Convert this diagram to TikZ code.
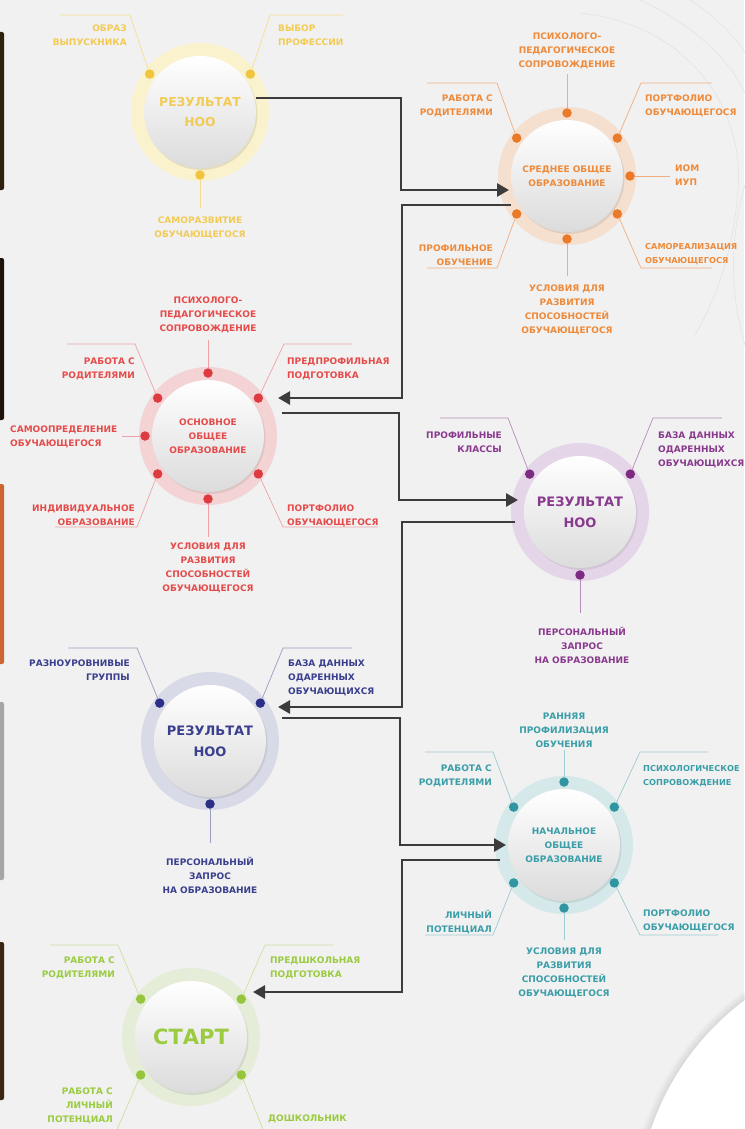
\documentclass[tikz,border=0pt]{standalone}
\usepackage{fontspec}
\setmainfont{DejaVu Sans}
\usetikzlibrary{arrows.meta,calc,shadows}
\definecolor{bgc}{HTML}{F1F1F1}
\definecolor{arrowc}{HTML}{3C3C3C}
\definecolor{yT}{HTML}{F2CB55}\definecolor{yD}{HTML}{F0C43C}\definecolor{yR}{HTML}{FAF2CC}\definecolor{yL}{HTML}{F5DE93}
\definecolor{oT}{HTML}{EE8A3A}\definecolor{oD}{HTML}{EA7A2A}\definecolor{oR}{HTML}{F5DFCE}\definecolor{oL}{HTML}{F0AE80}
\definecolor{rT}{HTML}{E64B4B}\definecolor{rD}{HTML}{DD3B42}\definecolor{rR}{HTML}{F4D3D4}\definecolor{rL}{HTML}{EEA2A5}
\definecolor{pT}{HTML}{8A3A8E}\definecolor{pD}{HTML}{7D2A82}\definecolor{pR}{HTML}{E5D5E8}\definecolor{pL}{HTML}{B58DB8}
\definecolor{bT}{HTML}{3A3F8E}\definecolor{bD}{HTML}{2B2F86}\definecolor{bR}{HTML}{D9DAE7}\definecolor{bL}{HTML}{9A9CC0}
\definecolor{tT}{HTML}{3A9EA8}\definecolor{tD}{HTML}{2F95A0}\definecolor{tR}{HTML}{D5E8EA}\definecolor{tL}{HTML}{9CCCD2}
\definecolor{gT}{HTML}{9BCB40}\definecolor{gD}{HTML}{94C53A}\definecolor{gR}{HTML}{E5EDD8}\definecolor{gL}{HTML}{CBE2A0}
\tikzset{
 ring/.style={circle, fill=#1, minimum size=138pt, inner sep=0pt, outer sep=0pt},
 hub/.style={circle, minimum size=126pt, inner sep=0pt, outer sep=0pt},
 core/.style={circle, minimum size=112pt, inner sep=0pt, outer sep=0pt, top color=white, bottom color=black!14,
   drop shadow={shadow xshift=1.5pt, shadow yshift=-2pt, opacity=0.18}, text=#1, align=center},
 dot/.style={circle, fill=#1, minimum size=9.5pt, inner sep=0pt, outer sep=0pt},
 leader/.style={draw=#1, line width=0.7pt},
 lbl/.style={text=#1, inner sep=0pt, font=\fontsize{9}{13.8}\selectfont\bfseries},
 lbls/.style={text=#1, inner sep=0pt, font=\fontsize{8.2}{13.8}\selectfont\bfseries},
 conn/.style={draw=arrowc, line width=2.8pt, -{Triangle[length=12pt,width=13pt]}},
 deco/.style={draw=black!11, line width=0.6pt},
}
\newcommand\sat[8]{%
  \node[dot=#4D] (#1) at (#2p.#3) {};
  \coordinate (#1b) at #5;
  \coordinate (#1e) at #6;
  \draw[leader=#4L] (#1) -- (#1b) -- (#1e);
  \node[lbl=#4T, #7] (#1t) {#8};
}
\begin{document}
\begin{tikzpicture}[x=1pt,y=-1pt]
\useasboundingbox (0,0) rectangle (744,1129);
\fill[bgc] (0,0) rectangle (744,1129);
% background decorations
\draw[deco] (580,13) .. controls (690,25) and (745,110) .. (738,190) .. controls (733,255) and (715,300) .. (695,335);
\draw[deco] (640,0) .. controls (705,30) and (744,75) .. (750,110);
\draw[deco] (690,0) .. controls (720,20) and (738,40) .. (750,60);
\draw[deco] (750,170) .. controls (728,230) and (728,300) .. (750,360);
\foreach \k in {0,...,7} {\fill[black, opacity=0.012] (905,1215) circle[radius={276pt-\k pt}];}
\fill[white] (905,1215) circle[radius=268pt];
\fill[black!75!brown, rounded corners=2pt] (-6,32) rectangle (4,190);
\fill[black!85!brown, rounded corners=2pt] (-6,258) rectangle (4,420);
\fill[brown!80!red, rounded corners=2pt] (-6,484) rectangle (4,664);
\fill[gray!70, rounded corners=2pt] (-6,702) rectangle (4,880);
\fill[black!70!brown, rounded corners=2pt] (-6,942) rectangle (4,1100);

% ---------- hubs ----------
\node[ring=yR] (Yr) at (200,112) {};
\node[hub] (Yp) at (200,112) {};
\node[ring=oR] (Or) at (567,176) {};
\node[hub] (Op) at (567,176) {};
\node[ring=rR] (Rr) at (208,436) {};
\node[hub] (Rp) at (208,436) {};
\node[ring=pR] (Pr) at (580,512) {};
\node[hub] (Pp) at (580,512) {};
\node[ring=bR] (Br) at (210,741) {};
\node[hub] (Bp) at (210,741) {};
\node[ring=tR] (Tr) at (564,845) {};
\node[hub] (Tp) at (564,845) {};
\node[ring=gR] (Gr) at (191,1037) {};
\node[hub] (Gp) at (191,1037) {};

% ---------- satellites ----------
\sat{Yul}{Y}{143}{y}{(130,15)}{(60,15)}{anchor=north east, align=right, at={(127,25)}}{ОБРАЗ\\ВЫПУСКНИКА}
\sat{Yur}{Y}{37}{y}{(270,15)}{(343,15)}{anchor=north west, align=left, at={(278,25)}}{ВЫБОР\\ПРОФЕССИИ}
\sat{Yb}{Y}{270}{y}{(200,208)}{(200,208)}{anchor=north, align=center, at={(200,217)}}{САМОРАЗВИТИЕ\\ОБУЧАЮЩЕГОСЯ}

\sat{Ot}{O}{90}{o}{(567,74)}{(567,74)}{anchor=north, align=center, at={(567,33)}}{ПСИХОЛОГО-\\ПЕДАГОГИЧЕСКОЕ\\СОПРОВОЖДЕНИЕ}
\sat{Oul}{O}{143}{o}{(497,83)}{(427,83)}{anchor=north east, align=right, at={(493,95)}}{РАБОТА С\\РОДИТЕЛЯМИ}
\sat{Our}{O}{37}{o}{(641,83)}{(712,83)}{anchor=north west, align=left, at={(645,95)}}{ПОРТФОЛИО\\ОБУЧАЮЩЕГОСЯ}
\sat{Ori}{O}{0}{o}{(670,176)}{(670,176)}{anchor=north west, align=left, at={(675,165)}}{ИОМ\\ИУП}
\sat{Olr}{O}{323}{o}{(641,268)}{(712,268)}{anchor=north west, align=left, at={(645,243)}, lbls=oT}{САМОРЕАЛИЗАЦИЯ\\ОБУЧАЮЩЕГОСЯ}
\sat{Oll}{O}{217}{o}{(497,268)}{(427,268)}{anchor=north east, align=right, at={(493,245)}}{ПРОФИЛЬНОЕ\\ОБУЧЕНИЕ}
\sat{Ob}{O}{270}{o}{(567,276)}{(567,276)}{anchor=north, align=center, at={(567,285)}}{УСЛОВИЯ ДЛЯ\\РАЗВИТИЯ\\СПОСОБНОСТЕЙ\\ОБУЧАЮЩЕГОСЯ}

\sat{Rt}{R}{90}{r}{(208,340)}{(208,340)}{anchor=north, align=center, at={(208,297)}}{ПСИХОЛОГО-\\ПЕДАГОГИЧЕСКОЕ\\СОПРОВОЖДЕНИЕ}
\sat{Rul}{R}{143}{r}{(135,344)}{(67,344)}{anchor=north east, align=right, at={(135,358)}}{РАБОТА С\\РОДИТЕЛЯМИ}
\sat{Rur}{R}{37}{r}{(284,344)}{(352,344)}{anchor=north west, align=left, at={(287,358)}}{ПРЕДПРОФИЛЬНАЯ\\ПОДГОТОВКА}
\sat{Rl}{R}{180}{r}{(122,436)}{(122,436)}{anchor=north west, align=left, at={(10,426)}}{САМООПРЕДЕЛЕНИЕ\\ОБУЧАЮЩЕГОСЯ}
\sat{Rll}{R}{217}{r}{(137,527)}{(55,527)}{anchor=north east, align=right, at={(135,505)}}{ИНДИВИДУАЛЬНОЕ\\ОБРАЗОВАНИЕ}
\sat{Rlr}{R}{323}{r}{(283,527)}{(378,527)}{anchor=north west, align=left, at={(287,505)}}{ПОРТФОЛИО\\ОБУЧАЮЩЕГОСЯ}
\sat{Rb}{R}{270}{r}{(208,537)}{(208,537)}{anchor=north, align=center, at={(208,543)}}{УСЛОВИЯ ДЛЯ\\РАЗВИТИЯ\\СПОСОБНОСТЕЙ\\ОБУЧАЮЩЕГОСЯ}

\sat{Pul}{P}{143}{p}{(508,418)}{(440,418)}{anchor=north east, align=right, at={(502,432)}}{ПРОФИЛЬНЫЕ\\КЛАССЫ}
\sat{Pur}{P}{37}{p}{(653,418)}{(722,418)}{anchor=north west, align=left, at={(658,432)}}{БАЗА ДАННЫХ\\ОДАРЕННЫХ\\ОБУЧАЮЩИХСЯ}
\sat{Pb}{P}{270}{p}{(580,613)}{(580,613)}{anchor=north, align=center, at={(582,627)}}{ПЕРСОНАЛЬНЫЙ\\ЗАПРОС\\НА ОБРАЗОВАНИЕ}

\sat{Bul}{B}{143}{b}{(137,648)}{(68,648)}{anchor=north east, align=right, at={(130,660)}}{РАЗНОУРОВНИВЫЕ\\ГРУППЫ}
\sat{Bur}{B}{37}{b}{(283,648)}{(352,648)}{anchor=north west, align=left, at={(288,660)}}{БАЗА ДАННЫХ\\ОДАРЕННЫХ\\ОБУЧАЮЩИХСЯ}
\sat{Bb}{B}{270}{b}{(210,843)}{(210,843)}{anchor=north, align=center, at={(210,857)}}{ПЕРСОНАЛЬНЫЙ\\ЗАПРОС\\НА ОБРАЗОВАНИЕ}

\sat{Tt}{T}{90}{t}{(564,750)}{(564,750)}{anchor=north, align=center, at={(564,713)}}{РАННЯЯ\\ПРОФИЛИЗАЦИЯ\\ОБУЧЕНИЯ}
\sat{Tul}{T}{143}{t}{(493,752)}{(425,752)}{anchor=north east, align=right, at={(492,765)}}{РАБОТА С\\РОДИТЕЛЯМИ}
\sat{Tur}{T}{37}{t}{(640,752)}{(708,752)}{anchor=north west, align=left, at={(643,765)}, lbls=tT}{ПСИХОЛОГИЧЕСКОЕ\\СОПРОВОЖДЕНИЕ}
\sat{Tll}{T}{217}{t}{(493,935)}{(425,935)}{anchor=north east, align=right, at={(492,910)}}{ЛИЧНЫЙ\\ПОТЕНЦИАЛ}
\sat{Tlr}{T}{323}{t}{(640,935)}{(718,935)}{anchor=north west, align=left, at={(643,910)}}{ПОРТФОЛИО\\ОБУЧАЮЩЕГОСЯ}
\sat{Tb}{T}{270}{t}{(564,940)}{(564,940)}{anchor=north, align=center, at={(564,948)}}{УСЛОВИЯ ДЛЯ\\РАЗВИТИЯ\\СПОСОБНОСТЕЙ\\ОБУЧАЮЩЕГОСЯ}

\sat{Gul}{G}{143}{g}{(118,945)}{(50,945)}{anchor=north east, align=right, at={(115,957)}}{РАБОТА С\\РОДИТЕЛЯМИ}
\sat{Gur}{G}{37}{g}{(265,945)}{(333,945)}{anchor=north west, align=left, at={(270,957)}}{ПРЕДШКОЛЬНАЯ\\ПОДГОТОВКА}
\sat{Gll}{G}{217}{g}{(116,1132)}{(40,1132)}{anchor=north east, align=right, at={(113,1088)}}{РАБОТА С\\ЛИЧНЫЙ\\ПОТЕНЦИАЛ}
\sat{Glr}{G}{323}{g}{(264,1132)}{(340,1132)}{anchor=north west, align=left, at={(268,1115)}}{ДОШКОЛЬНИК}

% ---------- cores ----------
\node[core=yT, font=\fontsize{12.3}{20}\selectfont\bfseries] (Y) at (200,112) {РЕЗУЛЬТАТ\\НОО};
\node[core=oT, font=\fontsize{9}{14}\selectfont\bfseries] (O) at (567,176) {СРЕДНЕЕ ОБЩЕЕ\\ОБРАЗОВАНИЕ};
\node[core=rT, font=\fontsize{9}{14}\selectfont\bfseries] (R) at (208,436) {ОСНОВНОЕ\\ОБЩЕЕ\\ОБРАЗОВАНИЕ};
\node[core=pT, font=\fontsize{13}{21}\selectfont\bfseries] (P) at (580,512) {РЕЗУЛЬТАТ\\НОО};
\node[core=bT, font=\fontsize{13}{21}\selectfont\bfseries] (B) at (210,741) {РЕЗУЛЬТАТ\\НОО};
\node[core=tT, font=\fontsize{9}{14}\selectfont\bfseries] (T) at (564,845) {НАЧАЛЬНОЕ\\ОБЩЕЕ\\ОБРАЗОВАНИЕ};
\node[core=gT, font=\fontsize{21}{24}\selectfont\bfseries] (G) at (191,1037) {СТАРТ};

% ---------- connectors ----------
\coordinate (J1) at (401,150);
\coordinate (J2) at (402,300);
\coordinate (J3) at (399,460);
\coordinate (J4) at (402,600);
\coordinate (J5) at (400,780);
\coordinate (J6) at (402,930);
\draw[conn] ([yshift=14pt]Y.east) -| (J1) |- ([xshift=-2pt,yshift=-14pt]O.west);
\draw[conn] ([yshift=-29pt]O.west) -| (J2) |- ([xshift=14pt,yshift=38pt]R.east);
\draw[conn] ([xshift=18pt,yshift=23pt]R.east) -| (J3) |- ([xshift=-6pt,yshift=12pt]P.west);
\draw[conn] ([xshift=-9pt,yshift=-10pt]P.west) -| (J4) |- ([xshift=12pt,yshift=34pt]B.east);
\draw[conn] ([xshift=16pt,yshift=23pt]B.east) -| (J5) |- ([xshift=-2pt]T.west);
\draw[conn] ([xshift=-8pt,yshift=-15pt]T.west) -| (J6) |- ([xshift=6pt,yshift=45pt]G.east);
\end{tikzpicture}
\end{document}
